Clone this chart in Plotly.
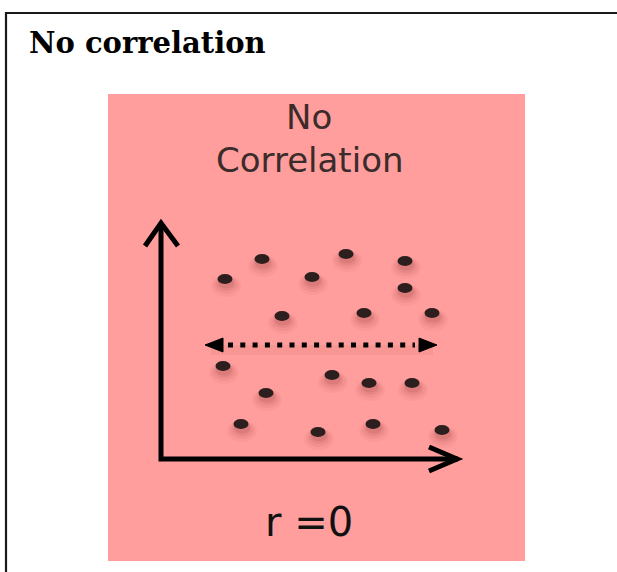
import plotly.graph_objects as go

# Data: scattered points (units relative to the drawn axes origin)
dot_x = [64, 101, 151, 185, 244, 244, 121, 203, 271, 62, 171, 208, 251, 105, 80, 157, 212, 281]
dot_y = [180, 200, 182, 205, 198, 171, 143, 146, 146, 93, 84, 76, 76, 66, 35, 27, 35, 29]

title_text = "No correlation"
panel_title = ["No", "Correlation"]
r_label = "r =0"

fig = go.Figure()
shapes = []

# outer border (left + top)
shapes.append(dict(type="line", xref="x", yref="y", x0=-156, x1=460, y0=446, y1=446,
                   line=dict(color="#1a1a1a", width=2.2)))
shapes.append(dict(type="line", xref="x", yref="y", x0=-155, x1=-155, y0=447, y1=-120,
                   line=dict(color="#1a1a1a", width=2.2)))

# pink panel
shapes.append(dict(type="rect", xref="x", yref="y", x0=-53, x1=364, y0=365, y1=-102,
                   fillcolor="#FF9E9C", line=dict(width=0), layer="below"))

# soft shadows of dots
for x, y in zip(dot_x, dot_y):
    for (w, h, dy, c) in [(30, 22, -7, "rgba(190,80,80,0.07)"),
                          (25, 18, -6, "rgba(170,70,70,0.09)"),
                          (20, 14, -5, "rgba(150,60,60,0.11)"),
                          (16, 11, -4, "rgba(130,50,50,0.12)")]:
        shapes.append(dict(type="circle", xref="x", yref="y", xsizemode="pixel", ysizemode="pixel",
                           xanchor=x, yanchor=y, x0=-w / 2 + 1, x1=w / 2 + 1, y0=dy - h / 2, y1=dy + h / 2,
                           fillcolor=c, line=dict(width=0)))
# dots
for x, y in zip(dot_x, dot_y):
    shapes.append(dict(type="circle", xref="x", yref="y", xsizemode="pixel", ysizemode="pixel",
                       xanchor=x, yanchor=y, x0=-7.5, x1=7.5, y0=-5, y1=5,
                       fillcolor="#2E1F1F", line=dict(width=0)))

# axes arrows
shapes.append(dict(type="path", xref="x", yref="y", path="M 0,236 L 0,0 L 297,0",
                   line=dict(color="black", width=5)))
shapes.append(dict(type="path", xref="x", yref="y", path="M -16,213 L 0,236 L 17,213",
                   line=dict(color="black", width=5)))
shapes.append(dict(type="path", xref="x", yref="y", path="M 268,12 L 296,0 L 268,-12",
                   line=dict(color="black", width=5)))

# dotted double arrow with faint shadow
shapes.append(dict(type="line", xref="x", yref="y", x0=50, x1=272, y0=109, y1=109,
                   line=dict(color="rgba(160,60,60,0.08)", width=10)))
shapes.append(dict(type="line", xref="x", yref="y", x0=67, x1=254, y0=114, y1=114,
                   line=dict(color="black", width=5, dash="5px,7.3px")))
shapes.append(dict(type="path", xref="x", yref="y", path="M 44,114 L 62,121 L 62,107 Z",
                   fillcolor="black", line=dict(color="black", width=1)))
shapes.append(dict(type="path", xref="x", yref="y", path="M 276,114 L 258,121 L 258,107 Z",
                   fillcolor="black", line=dict(color="black", width=1)))

fig.update_layout(shapes=shapes)

annotations = [
    dict(x=-134, y=416, text="<b>" + title_text + "</b>", xanchor="left", yanchor="middle",
         font=dict(family="DejaVu Serif", size=29, color="black")),
    dict(x=148, y=342, text=panel_title[0], xanchor="center", yanchor="middle",
         font=dict(family="DejaVu Sans", size=34, color="#3B2B2B")),
    dict(x=148, y=299, text=panel_title[1], xanchor="center", yanchor="middle",
         font=dict(family="DejaVu Sans", size=34, color="#3B2B2B")),
    dict(x=148, y=-63, text=r_label, xanchor="center", yanchor="middle",
         font=dict(family="DejaVu Sans", size=40, color="#111111")),
]
for a in annotations:
    a.update(xref="x", yref="y", showarrow=False)

fig.update_layout(
    annotations=annotations,
    width=617, height=572,
    margin=dict(l=0, r=0, t=0, b=0),
    paper_bgcolor="white", plot_bgcolor="white",
    xaxis=dict(range=[-161, 456], visible=False, fixedrange=True),
    yaxis=dict(range=[-113, 459], visible=False, fixedrange=True),
    showlegend=False,
)

fig.write_html("out.html", config={"displayModeBar": False},
               post_script="document.body.style.margin='0';document.body.style.overflow='hidden';")
